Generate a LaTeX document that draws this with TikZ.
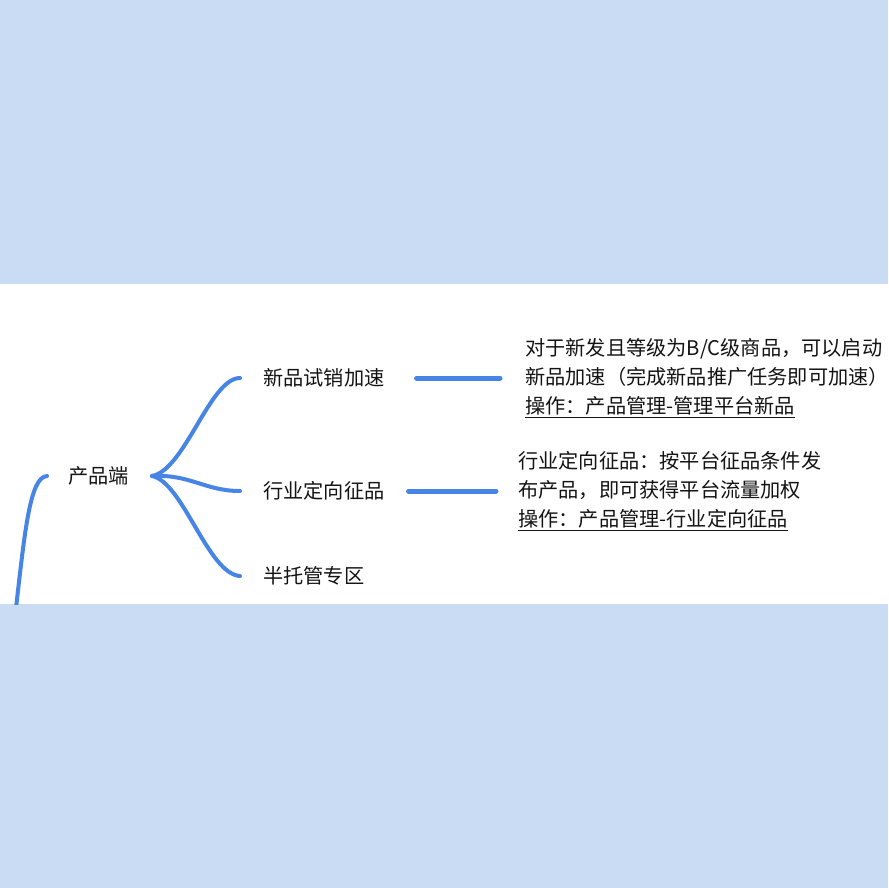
\documentclass[tikz,border=0pt]{standalone}
\usepackage{fontspec}
\setmainfont{Noto Sans CJK SC}
\definecolor{bgblue}{HTML}{C9DCF3}
\definecolor{lineblue}{HTML}{4684E6}
\definecolor{ink}{HTML}{141414}
\tikzset{
  lbl/.style={anchor=west,inner sep=0pt,text=ink,font=\fontsize{20.2}{29.2}\selectfont},
  blk/.style={anchor=west,inner sep=0pt,text=ink,align=left,font=\fontsize{20.2}{29.2}\selectfont},
  branch/.style={draw=lineblue,line width=4pt,line cap=round},
  bar/.style={draw=lineblue,line width=5pt,line cap=round}
}
\begin{document}
\begin{tikzpicture}[x=1pt,y=-1pt]
\fill[bgblue] (0,0) rectangle (888,888);
\fill[white] (0,284) rectangle (888,604);
\useasboundingbox (0,0) rectangle (888,888);

\node[lbl] (root) at (68,476) {产品端};
\node[lbl] (a) at (263,378) {新品试销加速};
\node[lbl] (b) at (263,491) {行业定向征品};
\node[lbl] (c) at (263,576) {半托管专区};

\node[blk] (ta) at (525,378) {对于新发且等级为B/C级商品，可以启动\\新品加速（完成新品推广任务即可加速）\\\underline{操作：产品管理-管理平台新品}};
\node[blk] (tb) at (518,491) {行业定向征品：按平台征品条件发\\布产品，即可获得平台流量加权\\\underline{操作：产品管理-行业定向征品}};

\coordinate (low) at (16,608);
\begin{scope}
\clip (0,284) rectangle (888,604);
\draw[branch] (low) .. controls (25,530) and (30,477) .. ([xshift=-21pt]root.west);
\end{scope}

\draw[branch] ([xshift=23pt]root.east) .. controls (185,470) and (210,378) .. ([xshift=-23pt]a.west);
\draw[branch] ([xshift=23pt]root.east) .. controls (190,474) and (205,491) .. ([xshift=-23pt]b.west);
\draw[branch] ([xshift=23pt]root.east) .. controls (183,482) and (208,574) .. ([xshift=-23pt]c.west);

\draw[bar] ([xshift=32pt]a.east) -- ([xshift=-25pt]ta.west);
\draw[bar] ([xshift=24pt]b.east) -- ([xshift=-22pt]tb.west);
\end{tikzpicture}
\end{document}
